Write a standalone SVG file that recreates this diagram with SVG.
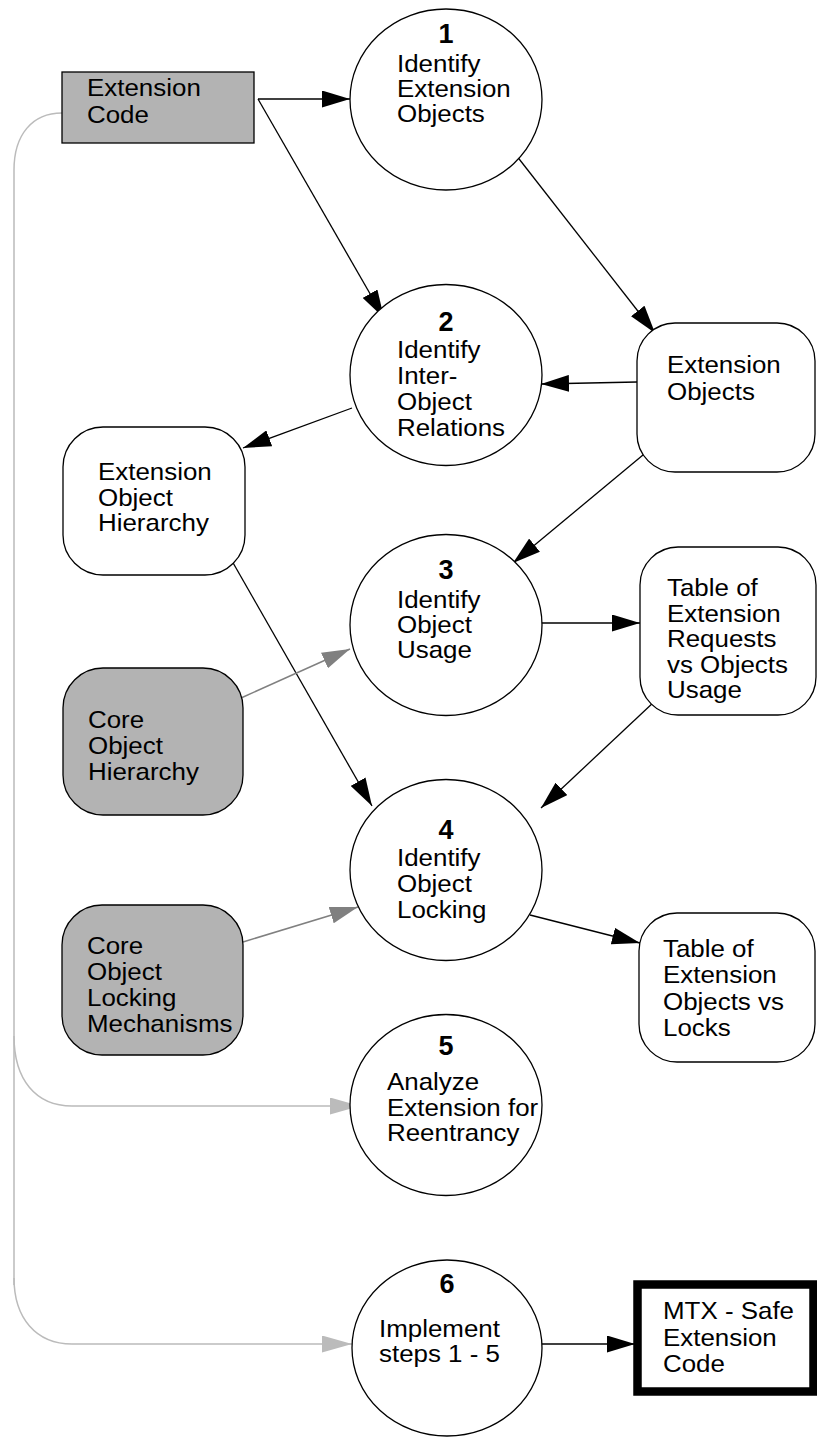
<svg xmlns="http://www.w3.org/2000/svg" width="817" height="1437" viewBox="0 0 817 1437">
  <style>
    .t { font-family: "Liberation Sans", Arial, sans-serif; font-size: 24px; fill: #000;
         transform-box: fill-box; transform-origin: 0 0; transform: scaleX(1.08); }
    .n { font-family: "Liberation Sans", Arial, sans-serif; font-size: 27px; font-weight: bold; fill: #000; text-anchor: middle; }
    .step { fill: #fff; stroke: #000; stroke-width: 1.3; }
    .store { fill: #fff; stroke: #000; stroke-width: 1.3; }
    .core { fill: #b3b3b3; stroke: #000; stroke-width: 1.3; }
    .flow { fill: none; stroke: #000; stroke-width: 1.3; marker-end: url(#ah); }
    .aux { fill: none; stroke: #808080; stroke-width: 1.5; marker-end: url(#ahg); }
    .back { fill: none; stroke: #bbb; stroke-width: 1.5; }
  </style>
  <defs>
    <marker id="ah" markerUnits="userSpaceOnUse" markerWidth="28" markerHeight="17" refX="28" refY="8.5" orient="auto">
      <path d="M0,0 L28,8.5 L0,17 z" fill="#000"/>
    </marker>
    <marker id="ahg" markerUnits="userSpaceOnUse" markerWidth="28" markerHeight="17" refX="28" refY="8.5" orient="auto">
      <path d="M0,0 L28,8.5 L0,17 z" fill="#808080"/>
    </marker>
    <marker id="ahl" markerUnits="userSpaceOnUse" markerWidth="30" markerHeight="17" refX="30" refY="8.5" orient="auto">
      <path d="M0,0 L30,8.5 L0,17 z" fill="#bbb"/>
    </marker>
  </defs>

  <!-- connectors -->
  <g id="connectors">
    <!-- feedback bus from the extension code down the left side -->
    <path class="back" d="M62,113 C32,113 14,135 14,170 L14,1285"/>
    <path class="back" d="M14,1036 C14,1080 36,1106 72,1106 L360,1106" marker-end="url(#ahl)"/>
    <path class="back" d="M14,1278 C14,1318 36,1344 72,1344 L352,1344" marker-end="url(#ahl)"/>

    <path class="flow" d="M258,99 L350,99"/>
    <path class="flow" d="M258,99 L384,318"/>
    <path class="flow" d="M516,155 L655,333"/>
    <path class="flow" d="M637,382 L541,384"/>
    <path class="flow" d="M352,408 L243,448"/>
    <path class="flow" d="M649,450 L513,563"/>
    <path class="flow" d="M541,623 L640,623"/>
    <path class="flow" d="M655,701 L541,808"/>
    <path class="flow" d="M232,561 L372,806"/>
    <path class="flow" d="M530,915 L640,943"/>
    <path class="flow" d="M542,1344 L635,1344"/>

    <path class="aux" d="M241,698 L350,649"/>
    <path class="aux" d="M243,942 L358,907"/>
  </g>

  <!-- source -->
  <g id="extension-code">
    <rect class="core" x="62" y="72" width="192" height="71" stroke-width="1.5"/>
    <text class="t"><tspan x="87" y="96">Extension</tspan><tspan x="87" y="123">Code</tspan></text>
  </g>

  <!-- process steps -->
  <g id="step1">
    <ellipse class="step" cx="446" cy="99.5" rx="96" ry="90.5"/>
    <text class="n" x="446" y="43">1</text>
    <text class="t"><tspan x="397" y="72">Identify</tspan><tspan x="397" y="97">Extension</tspan><tspan x="397" y="122">Objects</tspan></text>
  </g>
  <g id="step2">
    <ellipse class="step" cx="446" cy="375" rx="96" ry="90.5"/>
    <text class="n" x="446" y="331">2</text>
    <text class="t"><tspan x="397" y="358">Identify</tspan><tspan x="397" y="384">Inter-</tspan><tspan x="397" y="410">Object</tspan><tspan x="397" y="436">Relations</tspan></text>
  </g>
  <g id="step3">
    <ellipse class="step" cx="446" cy="625" rx="96" ry="90.5"/>
    <text class="n" x="446" y="579">3</text>
    <text class="t"><tspan x="397" y="608">Identify</tspan><tspan x="397" y="633">Object</tspan><tspan x="397" y="658">Usage</tspan></text>
  </g>
  <g id="step4">
    <ellipse class="step" cx="446" cy="870" rx="96" ry="90.5"/>
    <text class="n" x="446" y="839">4</text>
    <text class="t"><tspan x="397" y="866">Identify</tspan><tspan x="397" y="892">Object</tspan><tspan x="397" y="918">Locking</tspan></text>
  </g>
  <g id="step5">
    <ellipse class="step" cx="446" cy="1105" rx="96" ry="90.5"/>
    <text class="n" x="446" y="1055">5</text>
    <text class="t"><tspan x="387" y="1090">Analyze</tspan><tspan x="387" y="1116">Extension for</tspan><tspan x="387" y="1141">Reentrancy</tspan></text>
  </g>
  <g id="step6">
    <ellipse class="step" cx="447" cy="1348" rx="95" ry="88"/>
    <text class="n" x="447" y="1293">6</text>
    <text class="t"><tspan x="379" y="1337">Implement</tspan><tspan x="379" y="1362">steps 1 - 5</tspan></text>
  </g>

  <!-- data stores -->
  <g id="extension-objects">
    <rect class="store" x="637" y="323" width="178" height="149" rx="38"/>
    <text class="t"><tspan x="667" y="373">Extension</tspan><tspan x="667" y="400">Objects</tspan></text>
  </g>
  <g id="extension-object-hierarchy">
    <rect class="store" x="63" y="427" width="182" height="148" rx="40"/>
    <text class="t"><tspan x="98" y="480">Extension</tspan><tspan x="98" y="506">Object</tspan><tspan x="98" y="531">Hierarchy</tspan></text>
  </g>
  <g id="table-requests-usage">
    <rect class="store" x="640" y="547" width="176" height="168" rx="38"/>
    <text class="t"><tspan x="667" y="596">Table of</tspan><tspan x="667" y="622">Extension</tspan><tspan x="667" y="647">Requests</tspan><tspan x="667" y="673">vs Objects</tspan><tspan x="667" y="698">Usage</tspan></text>
  </g>
  <g id="table-objects-locks">
    <rect class="store" x="639" y="913" width="176" height="149" rx="38"/>
    <text class="t"><tspan x="663" y="957">Table of</tspan><tspan x="663" y="983">Extension</tspan><tspan x="663" y="1010">Objects vs</tspan><tspan x="663" y="1036">Locks</tspan></text>
  </g>

  <!-- core inputs -->
  <g id="core-object-hierarchy">
    <rect class="core" x="63" y="668" width="180" height="147" rx="40"/>
    <text class="t"><tspan x="88" y="728">Core</tspan><tspan x="88" y="754">Object</tspan><tspan x="88" y="780">Hierarchy</tspan></text>
  </g>
  <g id="core-locking-mechanisms">
    <rect class="core" x="62" y="905" width="181" height="150" rx="40"/>
    <text class="t"><tspan x="87" y="954">Core</tspan><tspan x="87" y="980">Object</tspan><tspan x="87" y="1006">Locking</tspan><tspan x="87" y="1032">Mechanisms</tspan></text>
  </g>

  <!-- result -->
  <g id="mtx-safe-code">
    <rect x="637.5" y="1284.5" width="176" height="107" fill="#fff" stroke="#000" stroke-width="8.5"/>
    <text class="t"><tspan x="663" y="1319">MTX - Safe</tspan><tspan x="663" y="1346">Extension</tspan><tspan x="663" y="1372">Code</tspan></text>
  </g>
</svg>
